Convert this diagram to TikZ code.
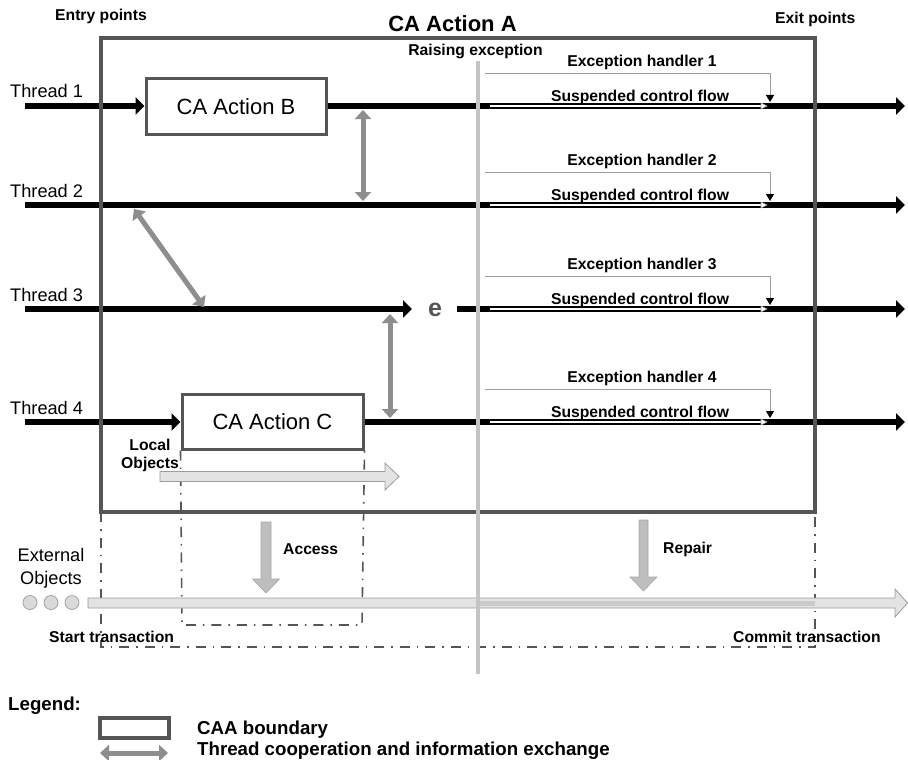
\documentclass[tikz,border=0pt]{standalone}
\usepackage{fontspec}
\setmainfont{Liberation Sans}
\usetikzlibrary{arrows.meta}

\definecolor{boxgray}{HTML}{555555}
\definecolor{coopgray}{HTML}{8E8E8E}
\definecolor{raisegray}{HTML}{C4C4C4}
\definecolor{barfill}{HTML}{E3E3E3}
\definecolor{baredge}{HTML}{9C9C9C}
\definecolor{accfill}{HTML}{BEBEBE}
\definecolor{stripe}{HTML}{CACACA}

\begin{document}
\begin{tikzpicture}[x=1pt,y=-1pt,
  threadline/.style={line width=6pt, black},
  threadarrow/.style={line width=6pt, black, -{Triangle[length=9pt,width=17pt]}},
  cabox/.style={draw=boxgray, line width=3pt, fill=white, minimum width=180pt,
    minimum height=55pt, inner sep=0pt, font=\fontsize{22}{26}\selectfont},
  caaframe/.style={draw=boxgray, line width=3.5pt},
  coop/.style={coopgray, line width=5pt,
    {Triangle[length=9pt,width=16pt]}-{Triangle[length=9pt,width=16pt]}},
  handler/.style={draw=baredge, line width=0.9pt,
    -{Triangle[length=7pt,width=8pt,color=black]}},
  suspended/.style={white, line width=2.2pt},
  dashdot/.style={draw=boxgray, line width=1.6pt,
    dash pattern=on 10pt off 7pt on 1.5pt off 7pt},
  blockarrow/.style={fill=barfill, draw=baredge, line width=0.8pt},
  downarrow/.style={fill=accfill, draw=baredge!90, line width=0.6pt},
  lbl/.style={font=\bfseries\fontsize{15.7}{18}\selectfont, inner sep=0pt},
  thrlbl/.style={font=\fontsize{18.2}{21}\selectfont, inner sep=0pt},
  leglbl/.style={font=\bfseries\fontsize{18.7}{22}\selectfont, inner sep=0pt}]
\useasboundingbox (0,0) rectangle (908,760);

% ---------- transaction scopes (dash-dot) ----------
\coordinate (trTL) at (101,512);
\coordinate (trBL) at (101,647);
\coordinate (trBR) at (815,647);
\coordinate (trTR) at (815,512);
\draw[dashdot] (trTL) -- (trBL) -- (trBR) -- (trTR);

% ---------- nested actions ----------
\node[cabox] (B) at (236,106.5) {CA Action B};
\node[cabox, minimum width=181pt] (C) at (272.5,421.5) {CA Action C};

\coordinate (accBL) at (182,625);
\coordinate (accBR) at (362,625);
\draw[dashdot] (C.south west) -- (accBL) -- (accBR) -- (C.south east);

% ---------- local objects ----------
\draw[blockarrow] (160,471.5) -- (385,471.5) -- (385,463) -- (399,476.5)
  -- (385,490) -- (385,481.5) -- (160,481.5) -- cycle;
\node[lbl, anchor=base] (local1) at (150,450) {Local};
\node[lbl, anchor=base] (local2) at (150,468) {Objects};

% ---------- threads ----------
\coordinate (t1s) at (25,106);  \coordinate (t1e) at (905,106);
\coordinate (t2s) at (25,205);  \coordinate (t2e) at (905,205);
\coordinate (t3s) at (25,309);  \coordinate (t3e) at (905,309);
\coordinate (t4s) at (25,422);  \coordinate (t4e) at (905,422);
\coordinate (t3m) at (412,309); \coordinate (t3r) at (457,309);

\draw[threadarrow] (t1s) -- (B.west |- t1s);
\draw[threadarrow] (B.east |- t1s) -- (t1e);
\draw[threadarrow] (t2s) -- (t2e);
\draw[threadarrow] (t3s) -- (t3m);
\draw[threadarrow] (t3r) -- (t3e);
\draw[threadarrow] (t4s) -- (C.west |- t4s);
\draw[threadarrow] (C.east |- t4s) -- (t4e);

\node[font=\bfseries\fontsize{25}{28}\selectfont, text=boxgray, inner sep=0pt,
  anchor=base] (e) at (435,316) {e};

\foreach \i/\y in {1/106, 2/205, 3/309, 4/422} {
  \node[thrlbl, anchor=base west] (th\i) at (10,\y-8) {Thread \i};
  % exception handler path
  \coordinate (hs\i) at (485,\y-33);
  \coordinate (he\i) at (770,\y-4);
  \draw[handler] (hs\i) -| (he\i);
  \node[lbl, anchor=base] (hl\i) at (642,\y-39.5) {Exception handler \i};
  % suspended control flow
  \coordinate (ss\i) at (490,\y);
  \coordinate (se\i) at (761,\y);
  \coordinate (st\i) at (767,\y);
  \draw[suspended] (ss\i) -- (se\i);
  \draw[fill=white, draw=baredge, line width=0.6pt]
    ([yshift=-3pt]se\i) -- (st\i) -- ([yshift=3pt]se\i) -- cycle;
  \node[lbl, anchor=base] (sl\i) at (640,\y-5) {Suspended control flow};
}

% ---------- cooperation between threads ----------
\coordinate (c12a) at (363,110); \coordinate (c12b) at (363,201);
\coordinate (c34a) at (390,314); \coordinate (c34b) at (390,418);
\coordinate (c23a) at (134,209); \coordinate (c23b) at (204,307);
\draw[coop] (c12a) -- (c12b);
\draw[coop] (c34a) -- (c34b);
\draw[coop] (c23a) -- (c23b);

% ---------- CA action A boundary ----------
\node[caaframe, minimum width=714pt, minimum height=474pt, inner sep=0pt]
  (A) at (458,275) {};
\node[font=\bfseries\fontsize{22}{26}\selectfont, inner sep=0pt, anchor=base]
  (Atitle) at (452.5,32) {CA Action A};
\node[lbl, anchor=base west] (entry) at (55,21) {Entry points};
\node[lbl, anchor=base west] (exit) at (775,24) {Exit points};

% ---------- external objects ----------
\draw[blockarrow] (88,598) -- (895,598) -- (895,589) -- (907.5,603)
  -- (895,617) -- (895,608) -- (88,608) -- cycle;
\fill[stripe] (480,600.5) rectangle (815,605.5);
\foreach \k/\x in {1/30, 2/51, 3/72}
  \draw[fill=barfill!90!gray, draw=baredge, line width=0.7pt]
    (\x,602.5) circle (7pt) coordinate (obj\k);
\node[thrlbl, anchor=base] (ext1) at (51,561) {External};
\node[thrlbl, anchor=base] (ext2) at (51,584) {Objects};

% access and repair
\draw[downarrow] (261,522) -- (271,522) -- (271,579) -- (279.5,579)
  -- (266,593) -- (252.5,579) -- (261,579) -- cycle;
\draw[downarrow] (639,520) -- (648,520) -- (648,577) -- (657,577)
  -- (643.5,591) -- (630,577) -- (639,577) -- cycle;
\node[lbl, anchor=base west] (access) at (283,554) {Access};
\node[lbl, anchor=base west] (repair) at (663,553) {Repair};

\node[lbl, anchor=base west] (start) at (49,642) {Start transaction};
\node[lbl, anchor=base west] (commit) at (733,642.5) {Commit transaction};

% ---------- raising exception ----------
\coordinate (rxT) at (478,61);
\coordinate (rxB) at (478,674);
\draw[raisegray, line width=4.5pt] (rxT) -- (rxB);
\node[lbl, anchor=base] (raise) at (475.5,56) {Raising exception};

% ---------- legend ----------
\node[leglbl, anchor=base west] (legend) at (8,710) {Legend:};
\node[caaframe, minimum width=69pt, minimum height=20pt, inner sep=0pt]
  (legbox) at (134.5,728) {};
\node[leglbl, anchor=base west] (legA) at (197,734) {CAA boundary};
\coordinate (legL) at (100,753);
\coordinate (legR) at (168,753);
\draw[coop] (legL) -- (legR);
\node[leglbl, anchor=base west] (legB) at (197,755)
  {Thread cooperation and information exchange};
\end{tikzpicture}
\end{document}
